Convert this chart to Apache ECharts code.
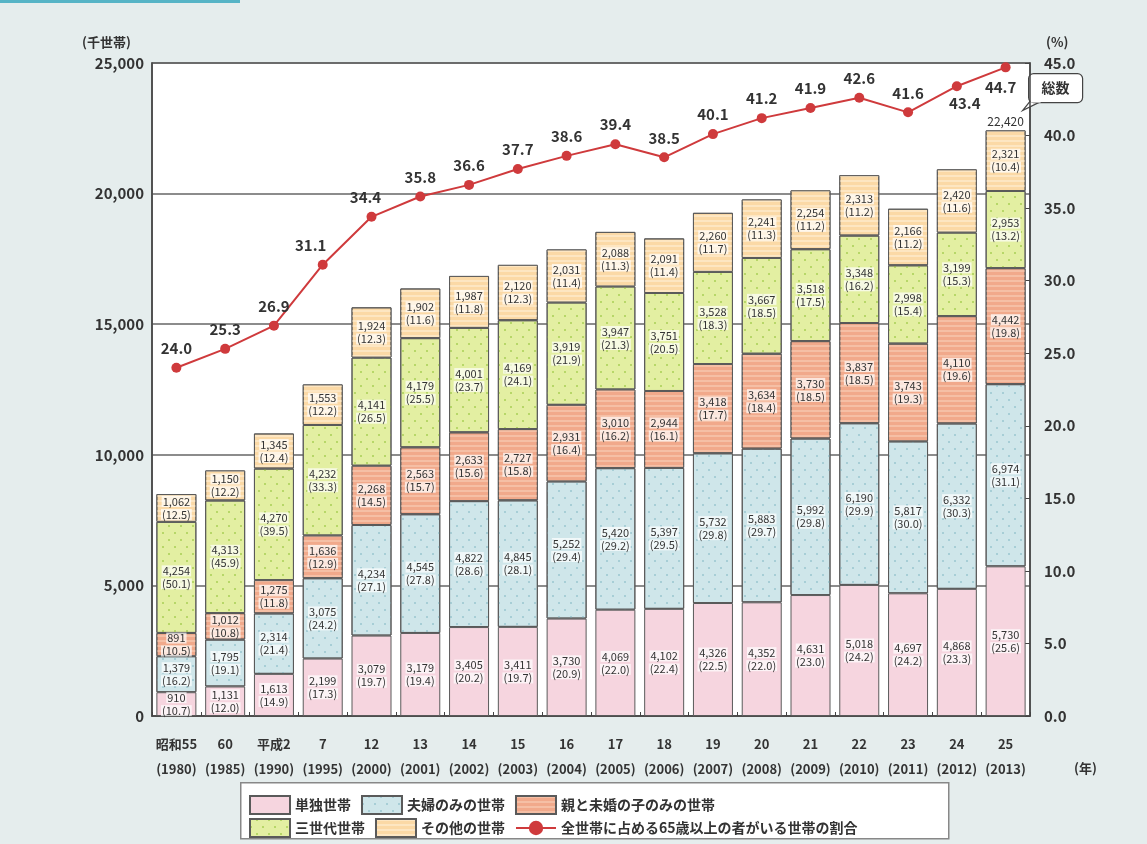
<!DOCTYPE html>
<html>
<head>
<meta charset="utf-8">
<script src="https://cdn.jsdelivr.net/npm/echarts@6/dist/echarts.min.js"></script>
<style>
html,body{margin:0;padding:0;background:#e5eded;}
#chart{width:1147px;height:844px;}
</style>
</head>
<body>
<div id="chart"></div>
<script>
var categories = ['昭和55\n(1980)','60\n(1985)','平成2\n(1990)','7\n(1995)','12\n(2000)','13\n(2001)','14\n(2002)','15\n(2003)','16\n(2004)','17\n(2005)','18\n(2006)','19\n(2007)','20\n(2008)','21\n(2009)','22\n(2010)','23\n(2011)','24\n(2012)','25\n(2013)'];

var single      = [910,1131,1613,2199,3079,3179,3405,3411,3730,4069,4102,4326,4352,4631,5018,4697,4868,5730];
var singlePct   = [10.7,12.0,14.9,17.3,19.7,19.4,20.2,19.7,20.9,22.0,22.4,22.5,22.0,23.0,24.2,24.2,23.3,25.6];
var couple      = [1379,1795,2314,3075,4234,4545,4822,4845,5252,5420,5397,5732,5883,5992,6190,5817,6332,6974];
var couplePct   = [16.2,19.1,21.4,24.2,27.1,27.8,28.6,28.1,29.4,29.2,29.5,29.8,29.7,29.8,29.9,30.0,30.3,31.1];
var parentChild = [891,1012,1275,1636,2268,2563,2633,2727,2931,3010,2944,3418,3634,3730,3837,3743,4110,4442];
var parentChildPct = [10.5,10.8,11.8,12.9,14.5,15.7,15.6,15.8,16.4,16.2,16.1,17.7,18.4,18.5,18.5,19.3,19.6,19.8];
var threeGen    = [4254,4313,4270,4232,4141,4179,4001,4169,3919,3947,3751,3528,3667,3518,3348,2998,3199,2953];
var threeGenPct = [50.1,45.9,39.5,33.3,26.5,25.5,23.7,24.1,21.9,21.3,20.5,18.3,18.5,17.5,16.2,15.4,15.3,13.2];
var other       = [1062,1150,1345,1553,1924,1902,1987,2120,2031,2088,2091,2260,2241,2254,2313,2166,2420,2321];
var otherPct    = [12.5,12.2,12.4,12.2,12.3,11.6,11.8,12.3,11.4,11.3,11.4,11.7,11.3,11.2,11.2,11.2,11.6,10.4];
var elderShare  = [24.0,25.3,26.9,31.1,34.4,35.8,36.6,37.7,38.6,39.4,38.5,40.1,41.2,41.9,42.6,41.6,43.4,44.7];

var leftTicks = [0,5000,10000,15000,20000,25000];
var rightTicks = [0,5,10,15,20,25,30,35,40,45];

var names = ['単独世帯','夫婦のみの世帯','親と未婚の子のみの世帯','三世代世帯','その他の世帯','全世帯に占める65歳以上の者がいる世帯の割合'];

var FONT = '"Noto Sans CJK JP", "Noto Sans", sans-serif';
var chart = echarts.init(document.getElementById('chart'));

function fmt(n){ return n.toLocaleString('en-US'); }

function barSeries(name, vals, pcts, color, decal){
  return {
    name: name, type: 'bar', stack: 'total', data: vals, barWidth: 40,
    itemStyle: { color: color, borderColor: '#5a5a5a', borderWidth: 1, decal: decal },
    label: {
      show: true, position: 'inside',
      formatter: function(p){ return '{v|' + fmt(vals[p.dataIndex]) + '}\n{v|(' + pcts[p.dataIndex].toFixed(1) + ')}'; },
      rich: { v: { fontSize: 11, color: '#333', fontFamily: FONT, lineHeight: 13,
                   backgroundColor: 'rgba(255,255,255,0.7)', padding: [0,1] } }
    },
    emphasis: { disabled: true }
  };
}

var dotsBlue = { symbol: 'circle', symbolSize: 1, color: '#9ac6cf', dashArrayX: [[2,10],[0,6,2,4]], dashArrayY: [2,5] };
var dotsGreen = { symbol: 'circle', symbolSize: 1, color: '#a8cf55', dashArrayX: [[2,10],[0,6,2,4]], dashArrayY: [2,5] };
var stripeSalmon = { symbol: 'rect', symbolSize: 1, color: '#f5bfa5', dashArrayX: [[1,0]], dashArrayY: [2,3], rotation: 0 };
var stripeOrange = { symbol: 'rect', symbolSize: 1, color: '#fde6c2', dashArrayX: [[1,0]], dashArrayY: [2,3], rotation: 0 };

var lastIdx = categories.length - 1;
var total = single[lastIdx] + couple[lastIdx] + parentChild[lastIdx] + threeGen[lastIdx] + other[lastIdx];

var otherSeries = barSeries(names[4], other, otherPct, '#fbd9a6', stripeOrange);
otherSeries.markPoint = {
  symbol: 'circle', symbolSize: 0, silent: true,
  data: [{ coord: [lastIdx, total], value: total }],
  label: { show: true, position: 'top', distance: 3, formatter: function(p){ return fmt(p.value); },
           fontSize: 12, color: '#333', fontFamily: FONT }
};

var lineLabelPos = elderShare.map(function(v,i){
  if (i === 3) return { position: 'top', offset: [-12, -2] };
  if (i === 4) return { position: 'top', offset: [-6, -2] };
  if (i === 16) return { position: 'bottom', offset: [8, 0] };
  if (i === 17) return { position: 'bottom', offset: [-5, 2] };
  return { position: 'top', offset: [0, -2] };
});
var lineData = elderShare.map(function(v,i){
  return { value: v, label: lineLabelPos[i] };
});

var legendText = { fontSize: 14, color: '#333', fontWeight: 'bold', fontFamily: FONT };

var option = {
  backgroundColor: '#e5eded',
  animation: false,
  textStyle: { fontFamily: FONT },
  grid: { left: 152, right: 117, top: 63, bottom: 128, show: true, backgroundColor: '#ffffff', borderColor: '#555', borderWidth: 1.5 },
  legend: [
    { left: 244, top: 790, itemWidth: 40, itemHeight: 18, itemGap: 10, selectedMode: false,
      textStyle: legendText,
      data: [
        { name: names[0], icon: 'rect', textStyle: { width: 85 } },
        { name: names[1], icon: 'rect', textStyle: { width: 82 } },
        { name: names[2], icon: 'rect' }
      ] },
    { left: 244, top: 813, itemWidth: 40, itemHeight: 18, itemGap: 10, selectedMode: false,
      textStyle: legendText,
      data: [
        { name: names[3], icon: 'rect', textStyle: { width: 85 } },
        { name: names[4], icon: 'rect', textStyle: { width: 82 } },
        { name: names[5] }
      ] }
  ],
  xAxis: {
    type: 'category', data: categories,
    axisLine: { lineStyle: { color: '#444', width: 1.5 } },
    axisTick: { show: true, inside: true, length: 4, lineStyle: { color: '#444' } },
    axisLabel: { fontSize: 13, fontWeight: 'bold', color: '#333', fontFamily: FONT, lineHeight: 25, margin: 16, interval: 0 }
  },
  yAxis: [
    { type: 'value', min: leftTicks[0], max: leftTicks[leftTicks.length-1], interval: 5000,
      axisLine: { show: true, lineStyle: { color: '#444', width: 1.5 } },
      axisTick: { show: false },
      splitLine: { show: true, lineStyle: { color: '#666', width: 1.5 } },
      axisLabel: { fontSize: 15, fontWeight: 'bold', color: '#333', margin: 8, fontFamily: FONT,
                   formatter: function(v){ return fmt(v); } } },
    { type: 'value', min: rightTicks[0], max: rightTicks[rightTicks.length-1], interval: 5,
      axisLine: { show: true, lineStyle: { color: '#444', width: 1.5 } },
      axisTick: { show: true, inside: true, length: 5, lineStyle: { color: '#444' } },
      splitLine: { show: false },
      axisLabel: { fontSize: 15, fontWeight: 'bold', color: '#333', margin: 14, fontFamily: FONT,
                   formatter: function(v){ return v.toFixed(1); } } }
  ],
  series: [
    barSeries(names[0], single, singlePct, '#f6d5df', null),
    barSeries(names[1], couple, couplePct, '#cfe6ea', dotsBlue),
    barSeries(names[2], parentChild, parentChildPct, '#f1a98b', stripeSalmon),
    barSeries(names[3], threeGen, threeGenPct, '#e3efa2', dotsGreen),
    otherSeries,
    { name: names[5], type: 'line', yAxisIndex: 1, data: lineData, z: 10,
      symbol: 'circle', symbolSize: 10,
      lineStyle: { color: '#cf3a3c', width: 2 },
      itemStyle: { color: '#cf3a3c' },
      label: { show: true, fontSize: 15, fontWeight: 'bold', color: '#333', fontFamily: FONT,
               formatter: function(p){ return p.value.toFixed(1); } },
      emphasis: { disabled: true } }
  ],
  graphic: [
    { type: 'rect', left: 0, top: 0, shape: { width: 240, height: 3 }, style: { fill: '#56b4c6' } },
    { type: 'text', left: 82, top: 36, style: { text: '(千世帯)', font: 'bold 13px ' + FONT, fill: '#333' } },
    { type: 'text', left: 1046, top: 36, style: { text: '(%)', font: 'bold 13px ' + FONT, fill: '#333' } },
    { type: 'text', left: 1074, top: 762, style: { text: '(年)', font: 'bold 13px ' + FONT, fill: '#333' } },
    { type: 'rect', left: 240, top: 782, z: -1, shape: { width: 708, height: 56 },
      style: { fill: '#ffffff', stroke: '#888', lineWidth: 1.5 } },
    { type: 'group', left: 1022, top: 73, children: [
      { type: 'polyline', shape: { points: [[10,27],[2,37],[20,28]] }, style: { fill: '#fff', stroke: '#444', lineWidth: 1.2 } },
      { type: 'rect', shape: { x: 8, y: 0, width: 54, height: 29, r: 5 }, style: { fill: '#fff', stroke: '#444', lineWidth: 1.2 } },
      { type: 'rect', shape: { x: 10, y: 26, width: 10, height: 3 }, style: { fill: '#fff' } },
      { type: 'text', style: { x: 35, y: 14, text: '総数', font: 'bold 14px ' + FONT, fill: '#333', align: 'center', verticalAlign: 'middle' } }
    ] }
  ]
};
chart.setOption(option);
</script>
</body>
</html>
